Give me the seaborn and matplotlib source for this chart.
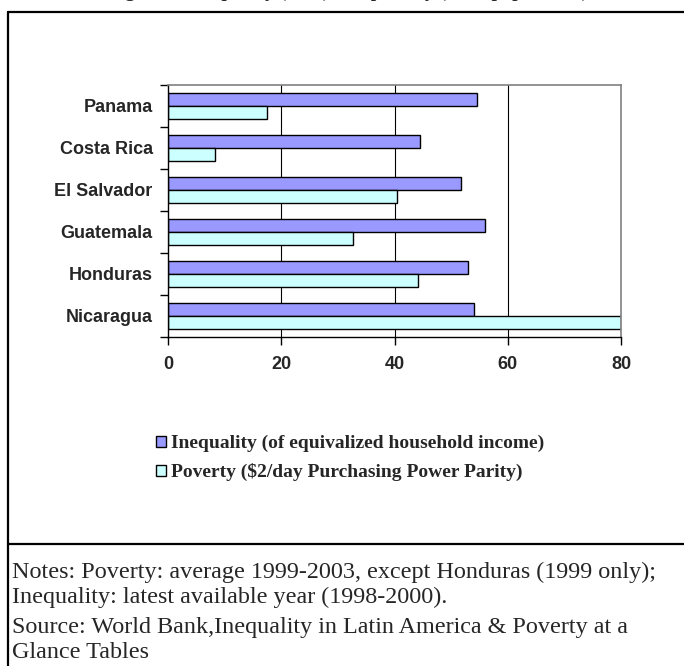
import matplotlib
matplotlib.use("Agg")
import matplotlib.pyplot as plt
from matplotlib import font_manager
from matplotlib.lines import Line2D
import pandas as pd
import seaborn as sns

# values
countries = ["Panama", "Costa Rica", "El Salvador", "Guatemala", "Honduras", "Nicaragua"]
inequality = [54.5, 44.5, 51.8, 55.9, 52.9, 54.0]
poverty = [17.4, 8.3, 40.4, 32.6, 44.1, 80.0]
series_names = ["Inequality (of equivalized household income)",
                "Poverty ($2/day Purchasing Power Parity)"]
series_colors = ["#9999FF", "#CCFFFF"]
x_ticks = [0, 20, 40, 60, 80]
title = "Figure 3: Inequality (Gini) and poverty (% of population)"
notes = ["Notes: Poverty: average 1999-2003, except Honduras (1999 only);",
         "Inequality: latest available year (1998-2000)."]
source = ["Source: World Bank,Inequality in Latin America & Poverty at a",
          "Glance Tables"]

df = pd.DataFrame({
    "country": countries * 2,
    "value": inequality + poverty,
    "series": [series_names[0]] * len(countries) + [series_names[1]] * len(countries),
})

sns.set_style("white")
available = {f.name for f in font_manager.fontManager.ttflist}
if "Liberation Sans Narrow" in available:
    axis_font, axis_size = "Liberation Sans Narrow", 15
else:
    axis_font, axis_size = "Liberation Sans", 13
serif_font = ["Liberation Serif", "DejaVu Serif"]

W, H = 684, 666
fig = plt.figure(figsize=(W / 100, H / 100), dpi=100)
ax = fig.add_axes([168 / W, 1 - 337 / H, (621 - 168) / W, (337 - 85) / H])

sns.barplot(data=df, y="country", x="value", hue="series", order=countries,
            hue_order=series_names, palette=series_colors, orient="h",
            width=0.6, edgecolor="black", linewidth=1, saturation=1,
            ax=ax, legend=True)

ax.set_xlim(0, 80)
ax.set_ylim(len(countries) - 0.5, -0.5)
ax.set_xticks(x_ticks)
ax.set_xticklabels([str(t) for t in x_ticks], fontfamily=axis_font,
                   fontsize=axis_size, fontweight="bold")
ax.set_yticks(range(len(countries)))
ax.set_yticklabels(countries, fontfamily=axis_font, fontsize=axis_size,
                   fontweight="bold")
ax.set_yticks([i - 0.5 for i in range(len(countries) + 1)], minor=True)
ax.tick_params(axis="y", which="major", length=0, pad=11)
ax.tick_params(axis="y", which="minor", length=6, width=1, color="black",
               direction="out", left=True)
ax.tick_params(axis="x", length=6, width=1, color="black", direction="out",
               bottom=True, pad=8)
ax.set_xlabel("")
ax.set_ylabel("")

for t in x_ticks[1:-1]:
    ax.axvline(t, color="black", linewidth=0.8, zorder=0)
for side in ["left", "bottom"]:
    ax.spines[side].set_color("black")
    ax.spines[side].set_linewidth(1)
for side in ["top", "right"]:
    ax.spines[side].set_color("#808080")
    ax.spines[side].set_linewidth(1.2)

handles, labels = ax.get_legend_handles_labels()
ax.get_legend().remove()
fig.legend(handles, labels, loc="upper left",
           bbox_to_anchor=(156 / W, 1 - 435 / H), frameon=False,
           borderpad=0, borderaxespad=0,
           handlelength=0.5, handleheight=0.5, handletextpad=0.25,
           labelspacing=0.55,
           prop={"family": serif_font, "weight": "bold", "size": 14})

# outer frame and separator
fig.add_artist(Line2D([8 / W, 8 / W], [0, 1 - 12 / H], color="black",
                      linewidth=1.6, transform=fig.transFigure))
fig.add_artist(Line2D([8 / W, 1], [1 - 12 / H, 1 - 12 / H], color="black",
                      linewidth=1.6, transform=fig.transFigure))
fig.add_artist(Line2D([8 / W, 1], [1 - 544 / H, 1 - 544 / H], color="black",
                      linewidth=1.6, transform=fig.transFigure))

# title sits above the top edge, only its descenders show (as in the source)
fig.text(348 / W, 1 + 3 / H, title, ha="center", va="baseline",
         fontfamily=serif_font, fontweight="bold", fontsize=14)

for y, line in zip([572, 597], notes):
    fig.text(12 / W, 1 - y / H, line, ha="left", va="center",
             fontfamily=serif_font, fontsize=17.4)
for y, line in zip([628, 653], source):
    fig.text(12 / W, 1 - y / H, line, ha="left", va="center",
             fontfamily=serif_font, fontsize=17.4)

fig.savefig("out.png", dpi=100, facecolor="white")
